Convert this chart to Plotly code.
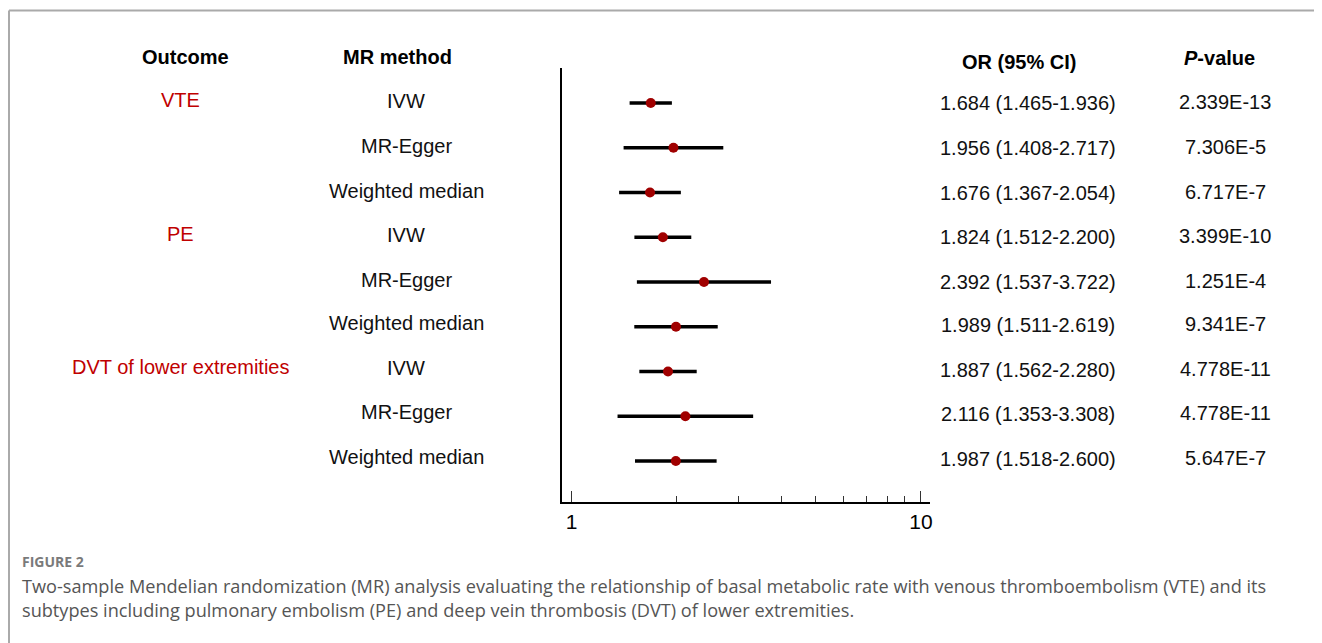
import plotly.graph_objects as go

outcomes = ["VTE", "", "", "PE", "", "", "DVT of lower extremities", "", ""]
methods = ["IVW", "MR-Egger", "Weighted median"] * 3
or_vals = [1.684, 1.956, 1.676, 1.824, 2.392, 1.989, 1.887, 2.116, 1.987]
ci_low = [1.465, 1.408, 1.367, 1.512, 1.537, 1.511, 1.562, 1.353, 1.518]
ci_high = [1.936, 2.717, 2.054, 2.200, 3.722, 2.619, 2.280, 3.308, 2.600]
or_text = ["1.684 (1.465-1.936)", "1.956 (1.408-2.717)", "1.676 (1.367-2.054)",
           "1.824 (1.512-2.200)", "2.392 (1.537-3.722)", "1.989 (1.511-2.619)",
           "1.887 (1.562-2.280)", "2.116 (1.353-3.308)", "1.987 (1.518-2.600)"]
p_text = ["2.339E-13", "7.306E-5", "6.717E-7", "3.399E-10", "1.251E-4",
          "9.341E-7", "4.778E-11", "4.778E-11", "5.647E-7"]
headers = ["Outcome", "MR method", "OR (95% CI)", "<i>P</i>-value"]
tick_vals = [1, 10]
tick_text = ["1", "10"]
minor_vals = [2, 3, 4, 5, 6, 7, 8, 9]

rows = list(range(len(or_vals)))

# page body has an 8px margin; size the figure to fit the window exactly
OFF = 8
W, H = 1322 - OFF, 643 - OFF
def px(x):
    return (x - OFF) / W
def py(y):
    return 1 - (y - OFF) / H

FONT = "Liberation Sans, Arial, sans-serif"
RED = "#c00000"

fig = go.Figure()

cx, cy = [], []
for i in rows:
    cx += [ci_low[i], ci_high[i], None]
    cy += [i, i, None]
fig.add_trace(go.Scatter(x=cx, y=cy, mode="lines",
                         line=dict(color="black", width=3.5),
                         hoverinfo="skip", showlegend=False))
fig.add_trace(go.Scatter(x=or_vals, y=rows, mode="markers",
                         marker=dict(color="#a00000", size=10, symbol="circle"),
                         showlegend=False))

ann = []
col_x = {"outcome": 181, "method": 407, "or": 1030, "p": 1228}
def txt(x, y, s, color="#111", yshift=0):
    return dict(x=px(x), xref="paper", y=y, yref="y", text=s, showarrow=False,
                xanchor="center", yanchor="middle", yshift=yshift,
                font=dict(family=FONT, size=20, color=color))

for i in rows:
    lift = 2 if i >= 5 else 0
    if outcomes[i]:
        ann.append(txt(col_x["outcome"], i, outcomes[i], RED, 3 + lift))
    ann.append(txt(col_x["method"], i, methods[i], "#111", 2 + lift))
    ann.append(txt(col_x["or"], i, or_text[i], "#111", 0 + lift))
    ann.append(txt(col_x["p"], i, p_text[i], "#111", 1 + lift))

hdr_pos = [(186, 57), (398, 57), (1021, 62), (1222, 58)]
for h, (hx, hy) in zip(headers, hdr_pos):
    ann.append(dict(x=px(hx), xref="paper", y=py(hy), yref="paper",
                    xanchor="center", yanchor="middle",
                    text="<b>" + h + "</b>", showarrow=False,
                    font=dict(family=FONT, size=20, color="black")))

ann.append(dict(x=px(20), xref="paper", y=py(561), yref="paper",
                xanchor="left", yanchor="middle",
                text="<b>FIGURE 2</b>", showarrow=False,
                font=dict(family="Open Sans, sans-serif", size=14, color="#7a7a7a")))
ann.append(dict(x=px(20), xref="paper", y=py(598), yref="paper",
                xanchor="left", yanchor="middle", align="left",
                text="Two-sample Mendelian randomization (MR) analysis evaluating the relationship of basal metabolic rate with venous thromboembolism (VTE) and its<br>"
                     "subtypes including pulmonary embolism (PE) and deep vein thrombosis (DVT) of lower extremities.",
                showarrow=False,
                font=dict(family="Open Sans, sans-serif", size=18.15, color="#555")))

shapes = [
    dict(type="line", xref="paper", yref="paper", x0=px(9), x1=1, y0=py(10.5), y1=py(10.5),
         line=dict(color="#aaaaaa", width=2)),
    dict(type="line", xref="paper", yref="paper", x0=px(9), x1=px(9), y0=py(10.5), y1=0,
         line=dict(color="#aaaaaa", width=2)),
]

row_px0 = 103
row_step = 44.75
y_top = (68 - row_px0) / row_step
y_bot = (502 - row_px0) / row_step

fig.update_layout(
    width=W, height=H, margin=dict(l=0, r=0, t=0, b=0),
    paper_bgcolor="white", plot_bgcolor="white",
    annotations=ann, shapes=shapes,
    xaxis=dict(type="log", range=[-0.0285, 1.0256], domain=[px(563), px(932)],
               showline=True, linecolor="black", linewidth=1.5,
               showgrid=False, zeroline=False,
               tickvals=tick_vals, ticktext=tick_text, ticks="inside",
               ticklen=11, tickwidth=1, tickcolor="#333",
               tickfont=dict(family=FONT, size=21, color="black"),
               minor=dict(tickvals=minor_vals, ticks="inside", ticklen=6,
                          tickwidth=1, tickcolor="#333", showgrid=False)),
    yaxis=dict(range=[y_bot, y_top], domain=[py(502), py(68)],
               showline=True, linecolor="black", linewidth=1.5,
               showgrid=False, zeroline=False, showticklabels=False, ticks=""),
)

fig.write_html("out.html")
